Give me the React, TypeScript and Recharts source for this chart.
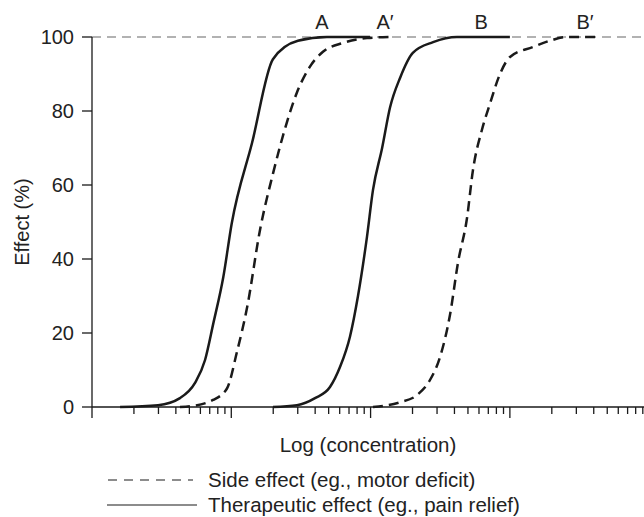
import React from 'react';
import { LineChart, Line, XAxis, YAxis, ReferenceLine, ReferenceDot, Legend } from 'recharts';

// Concentration (linear units, log axis) vs effect (%)
const therapeuticA = [
  { x: 1.59, y: 0 }, { x: 2.98, y: 0.5 }, { x: 4.28, y: 2.4 }, { x: 5.49, y: 6.5 },
  { x: 6.48, y: 12.7 }, { x: 7.43, y: 22.6 }, { x: 8.77, y: 35.2 },
  { x: 10.07, y: 49.6 }, { x: 14.1, y: 71.4 }, { x: 19.9, y: 94 }, { x: 30.1, y: 99 }, { x: 48.6, y: 100 }, { x: 99, y: 100 },
];
const sideA = [
  { x: 4.28, y: 0 }, { x: 5.05, y: 0.2 }, { x: 7.39, y: 1.9 }, { x: 9.31, y: 5 },
  { x: 11.0, y: 15 }, { x: 13.0, y: 27 }, { x: 16.1, y: 48 }, { x: 19.9, y: 63 },
  { x: 25.1, y: 77 }, { x: 29.6, y: 85 }, { x: 36.7, y: 92 }, { x: 45.5, y: 96 },
  { x: 63.4, y: 98.4 }, { x: 94.2, y: 99.7 }, { x: 138, y: 100 },
];
const therapeuticB = [
  { x: 19.9, y: 0 }, { x: 29.6, y: 0.5 }, { x: 39.9, y: 2.4 }, { x: 51.1, y: 5.4 },
  { x: 60.3, y: 10.8 }, { x: 71.1, y: 19 }, { x: 81.2, y: 30 }, { x: 94.2, y: 46 },
  { x: 104, y: 58.6 }, { x: 121, y: 70 }, { x: 138, y: 81 }, { x: 163, y: 89 },
  { x: 201, y: 95.7 }, { x: 281, y: 98.6 }, { x: 417, y: 100 }, { x: 1000, y: 100 },
];
const sideB = [
  { x: 104, y: 0 }, { x: 163, y: 1.3 }, { x: 215, y: 3.2 }, { x: 267, y: 7.3 },
  { x: 315, y: 13.5 }, { x: 372, y: 25 }, { x: 424, y: 39 }, { x: 492, y: 51 },
  { x: 543, y: 64 }, { x: 631, y: 75 }, { x: 720, y: 82 }, { x: 849, y: 90 },
  { x: 1002, y: 94.6 }, { x: 1466, y: 97.3 }, { x: 1941, y: 99 }, { x: 2570, y: 100 }, { x: 4436, y: 100 },
];

const curveLabels = [
  { x: 44.8, text: 'A' },
  { x: 127, text: 'A\u2032' },
  { x: 621, text: 'B' },
  { x: 3460, text: 'B\u2032' },
];

const majorTicks = [1, 10, 100, 1000];
const xTicks = [
  1, 2, 3, 4, 5, 6, 7, 8, 9,
  10, 20, 30, 40, 50, 60, 70, 80, 90,
  100, 200, 300, 400, 500, 600, 700, 800, 900,
  1000, 2000, 3000, 4000, 5000, 6000, 7000, 8000, 9000,
];
const yTicks = [0, 20, 40, 60, 80, 100];

const FONT = '"Liberation Sans", Arial, sans-serif';
const INK = '#1a1a1a';

const XTick = (props: any) => {
  const { x, y, payload } = props;
  const major = majorTicks.includes(payload.value);
  return <line x1={x} x2={x} y1={y} y2={y + (major ? 11 : 7)} stroke={INK} strokeWidth={1.3} />;
};

const YLabel = (props: any) => {
  const vb = props.viewBox;
  const cx = vb.x + 22;
  const cy = vb.y + vb.height / 2;
  return (
    <text x={cx} y={cy} transform={`rotate(-90 ${cx} ${cy})`} textAnchor="middle" dominantBaseline="central"
      fontSize={20} fill="#222" fontFamily={FONT}>Effect (%)</text>
  );
};

const LegendContent = () => (
  <div style={{ fontFamily: FONT, fontSize: 20.5, color: '#222', lineHeight: '24px' }}>
    <div style={{ display: 'flex', alignItems: 'center', height: 25 }}>
      <svg width={104} height={25} style={{ display: 'block', flex: 'none' }}>
        <line x1={4} x2={89} y1={13} y2={13} stroke={INK} strokeWidth={1.2} strokeDasharray="9 7" />
      </svg>
      <span style={{ whiteSpace: 'nowrap' }}>Side effect (eg., motor deficit)</span>
    </div>
    <div style={{ display: 'flex', alignItems: 'center', height: 25 }}>
      <svg width={104} height={25} style={{ display: 'block', flex: 'none' }}>
        <line x1={3} x2={93} y1={13} y2={13} stroke={INK} strokeWidth={1.2} />
      </svg>
      <span style={{ whiteSpace: 'nowrap' }}>Therapeutic effect (eg., pain relief)</span>
    </div>
  </div>
);

export default function App() {
  return (
    <div style={{ position: 'absolute', left: 0, top: 0, width: 644, height: 517, background: '#fff' }}>
      <LineChart width={644} height={517} margin={{ top: 37, right: 0, left: 0, bottom: 60 }}
        style={{ fontFamily: FONT }}>
        <XAxis dataKey="x" type="number" scale="log" domain={[1, 9180]} allowDataOverflow
          ticks={xTicks} interval={0} tick={<XTick />} tickLine={false} tickSize={0} tickMargin={0}
          axisLine={{ stroke: INK, strokeWidth: 1.5 }} height={50}
          label={{ value: 'Log (concentration)', position: 'insideBottom', offset: 5, fontSize: 20.5, fill: '#222', fontFamily: FONT }} />
        <YAxis type="number" domain={[0, 100]} ticks={yTicks} width={92} tickSize={10} tickMargin={8}
          tick={{ fontSize: 20, fill: '#222', fontFamily: FONT }}
          tickLine={{ stroke: INK, strokeWidth: 1.3 }} axisLine={{ stroke: INK, strokeWidth: 1.3 }}
          label={<YLabel />} />
        <ReferenceLine y={100} stroke="#999" strokeWidth={1.5} strokeDasharray="9 6" />
        <Line data={sideA} dataKey="y" type="monotone" stroke={INK} strokeWidth={2.5} strokeDasharray="10 6" dot={false} isAnimationActive={false} />
        <Line data={sideB} dataKey="y" type="monotone" stroke={INK} strokeWidth={2.5} strokeDasharray="10 6" dot={false} isAnimationActive={false} />
        <Line data={therapeuticA} dataKey="y" type="monotone" stroke={INK} strokeWidth={2.5} dot={false} isAnimationActive={false} />
        <Line data={therapeuticB} dataKey="y" type="monotone" stroke={INK} strokeWidth={2.5} dot={false} isAnimationActive={false} />
        {curveLabels.map((c) => (
          <ReferenceDot key={c.text} x={c.x} y={100} r={0} fill="none" stroke="none"
            label={{ value: c.text, position: 'top', offset: 8, fontSize: 20, fill: '#222', fontFamily: FONT }} />
        ))}
        <Legend verticalAlign="middle" align="center" layout="horizontal" content={<LegendContent />}
          wrapperStyle={{ left: 104, top: 467, width: 520, height: 50 }} />
      </LineChart>
    </div>
  );
}
